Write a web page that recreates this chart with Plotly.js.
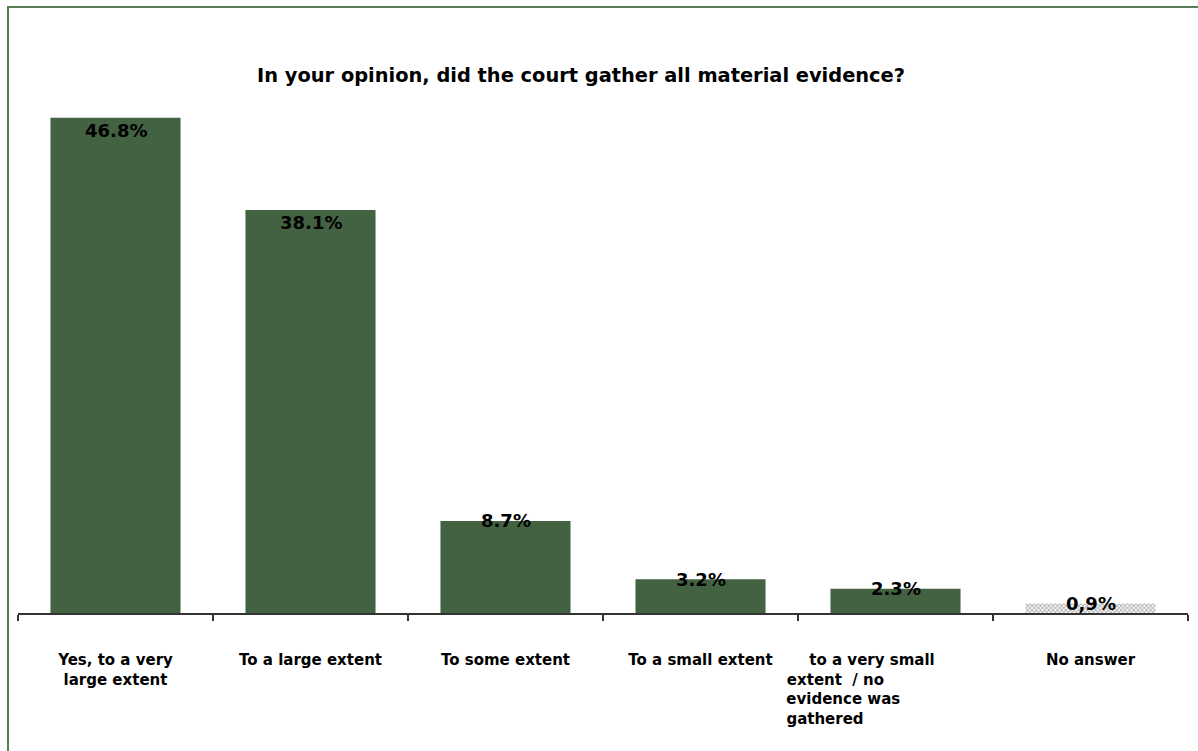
<!DOCTYPE html>
<html>
<head>
<meta charset="utf-8">
<script src="https://cdn.plot.ly/plotly-3.0.1.min.js"></script>
<style>
html,body{margin:0;padding:0;background:#fff;}
#chart{width:1198px;height:751px;}
</style>
</head>
<body>
<div id="chart"></div>
<script>
var categories = ["Yes, to a very large extent", "To a large extent", "To some extent", "To a small extent", "to a very small extent  / no evidence was gathered", "No answer"];
var nb = function(n){ return "\u00a0".repeat(n); };
var tickLabels = ["Yes, to a very<br>large extent", "To a large extent", "To some extent", "To a small extent",
  nb(5) + "to a very small" + nb(14) + "<br>extent  / no" + nb(23) + "<br>evidence was" + nb(20) + "<br>gathered" + nb(27),
  "No answer"];
var values = [46.8, 38.1, 8.7, 3.2, 2.3, 0.9];
var valueLabels = ["46.8%", "38.1%", "8.7%", "3.2%", "2.3%", "0,9%"];

var green = "#436241";
var barColors = values.map(function(v, i){ return i === values.length - 1 ? "#acacac" : green; });
var patternShapes = values.map(function(v, i){ return i === values.length - 1 ? "x" : ""; });

var trace = {
  type: "bar",
  x: categories,
  y: values,
  width: 0.667,
  marker: {
    color: barColors,
    line: {width: 0},
    pattern: {shape: patternShapes, fgcolor: "#858585", bgcolor: "#b8b8b8", size: 3, solidity: 0.5, fillmode: "replace"}
  },
  hoverinfo: "none"
};

var annotations = values.map(function(v, i){
  var big = v > 20;
  return {
    x: categories[i], y: v, xref: "x", yref: "y",
    text: "<b>" + valueLabels[i] + "</b>", showarrow: false,
    yanchor: big ? "top" : "middle",
    yshift: big ? 0 : 0,
    font: {family: "DejaVu Sans, Verdana, sans-serif", size: 18, color: "#000"}
  };
});

var layout = {
  width: 1198, height: 751,
  margin: {l: 18, r: 10, t: 84, b: 138},
  paper_bgcolor: "#fff", plot_bgcolor: "#fff",
  title: {
    text: "<b>In your opinion, did the court gather all material evidence?</b>",
    font: {family: "DejaVu Sans, Verdana, sans-serif", size: 19.4, color: "#000"},
    x: 0.485, xref: "container", xanchor: "center",
    y: 0.9, yref: "container", yanchor: "middle"
  },
  showlegend: false,
  bargap: 0.333,
  xaxis: {
    type: "category",
    tickvals: categories,
    ticktext: tickLabels.map(function(t){ return "<b>" + t + "</b>"; }),
    tickangle: 0,
    showline: true, linecolor: "#333", linewidth: 2,
    ticks: "outside", tickson: "boundaries", ticklen: 6, tickcolor: "#333", tickwidth: 1.5,
    ticklabelstandoff: 32,
    tickfont: {family: "DejaVu Sans, Verdana, sans-serif", size: 15, color: "#000"},
    showgrid: false, zeroline: false, fixedrange: true, automargin: false
  },
  yaxis: {
    range: [0, 50], visible: false, showgrid: false, zeroline: false, fixedrange: true
  },
  annotations: annotations,
  shapes: [{
    type: "rect", xref: "paper", yref: "paper",
    x0: -10/1170, x1: 1.03, y0: -0.35, y1: (613-7)/529,
    line: {color: "#5b7b58", width: 2}, fillcolor: "rgba(0,0,0,0)", layer: "below"
  }]
};

Plotly.newPlot("chart", [trace], layout, {displayModeBar: false, staticPlot: true});
</script>
</body>
</html>
